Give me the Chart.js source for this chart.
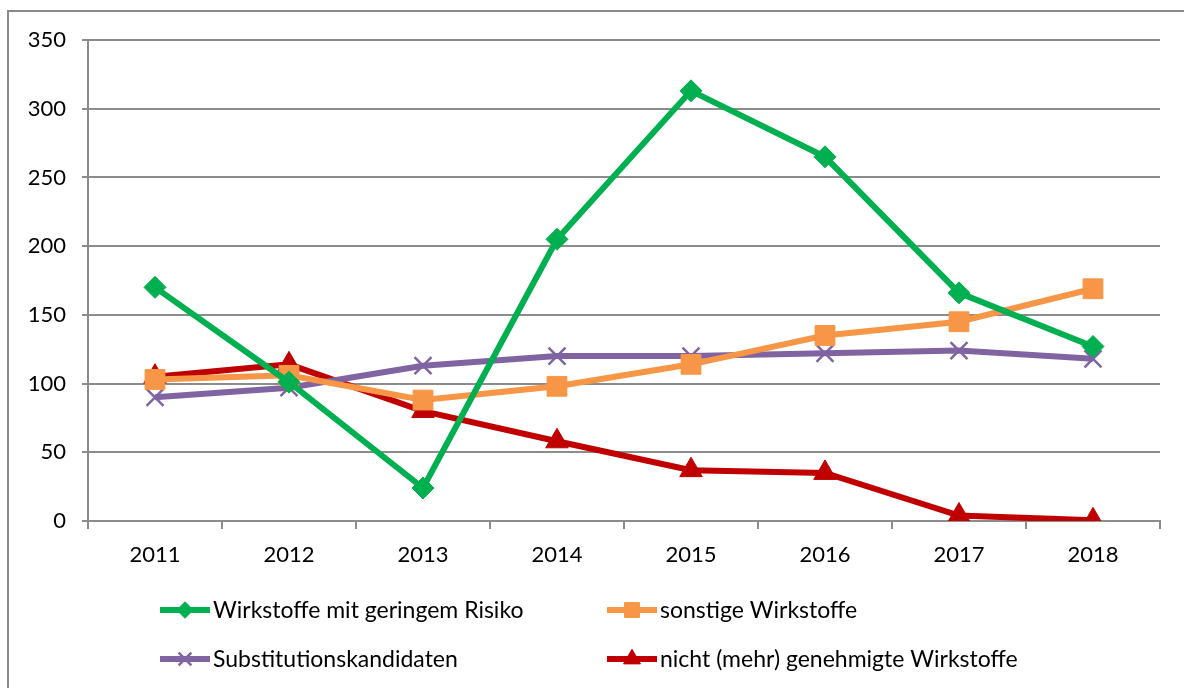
<!DOCTYPE html>
<html>
<head>
<meta charset="utf-8">
<script src="https://cdn.jsdelivr.net/npm/chart.js@4"></script>
<style>
  html, body { margin: 0; padding: 0; background: #fff; overflow: hidden; }
  #frame { position: absolute; left: 7px; top: 10px; width: 1300px; height: 800px;
           border-top: 2px solid #8a8a8a; border-left: 2px solid #8a8a8a; }
  #wrap { position: absolute; left: 0; top: 0; width: 1184px; height: 688px; }
</style>
</head>
<body>
<div id="frame"></div>
<div id="wrap"><canvas id="chart" width="1184" height="688"></canvas></div>
<script>
const years = ['2011', '2012', '2013', '2014', '2015', '2016', '2017', '2018'];
const geringesRisiko = [170, 101, 24, 205, 313, 265, 166, 127];
const sonstige = [103, 106, 88, 98, 114, 135, 145, 169];
const substitution = [90, 97, 113, 120, 120, 122, 124, 118];
const nichtGenehmigt = [105, 114, 80, 58, 37, 35, 4, 0.5];
const yTicks = [0, 50, 100, 150, 200, 250, 300, 350];

const FONT = "Lato";
const gridGray = '#8c8c8c';

// legend in two columns, drawn below the plot
const gridLegend = {
  id: 'gridLegend',
  afterDraw(chart) {
    const ctx = chart.ctx;
    const cols = [160, 607];
    const rows = [610, 659];
    chart.data.datasets.forEach((ds, i) => {
      const x = cols[i % 2];
      const y = rows[Math.floor(i / 2)];
      ctx.save();
      ctx.strokeStyle = ds.borderColor;
      ctx.lineWidth = 6;
      ctx.beginPath();
      ctx.moveTo(x, y);
      ctx.lineTo(x + 50, y);
      ctx.stroke();
      ctx.fillStyle = ds.pointBackgroundColor;
      ctx.strokeStyle = ds.pointBorderColor;
      ctx.lineWidth = ds.pointBorderWidth;
      Chart.helpers.drawPoint(ctx, { pointStyle: ds.pointStyle, radius: ds.pointRadius * 0.75, rotation: 0, borderWidth: ds.pointBorderWidth }, x + 25, y);
      ctx.fillStyle = '#000';
      ctx.font = '23px ' + FONT;
      ctx.textBaseline = 'middle';
      ctx.fillText(ds.label, x + 53, y + 1);
      ctx.restore();
    });
  }
};

function series(label, data, color, style, radius, bw) {
  return {
    label: label,
    data: data,
    borderColor: color,
    backgroundColor: color,
    borderWidth: 6,
    pointStyle: style,
    pointRadius: radius,
    pointHoverRadius: radius,
    pointBackgroundColor: color,
    pointBorderColor: color,
    pointBorderWidth: bw,
    tension: 0
  };
}

new Chart(document.getElementById('chart'), {
  type: 'line',
  data: {
    labels: years,
    datasets: [
      series('Wirkstoffe mit geringem Risiko', geringesRisiko, '#00B050', 'rectRot', 11, 1),
      series('sonstige Wirkstoffe', sonstige, '#F79646', 'rect', 14, 1),
      series('Substitutionskandidaten', substitution, '#8064A2', 'crossRot', 12, 2.5),
      series('nicht (mehr) genehmigte Wirkstoffe', nichtGenehmigt, '#C00000', 'triangle', 13, 1)
    ]
  },
  options: {
    responsive: false,
    animation: false,
    layout: { padding: { top: 40, right: 24, bottom: 117, left: 0 } },
    plugins: {
      legend: { display: false },
      tooltip: { enabled: false }
    },
    scales: {
      y: {
        min: 0,
        max: 350,
        afterFit(scale) { scale.width = 88; },
        afterBuildTicks(scale) { scale.ticks = yTicks.map(v => ({ value: v })); },
        grid: { color: gridGray, lineWidth: 2, tickLength: 6 },
        border: { color: gridGray, width: 2 },
        ticks: { color: '#000', padding: 16, font: { family: FONT, size: 22 } }
      },
      x: {
        offset: true,
        afterFit(scale) { scale.height = 50; },
        grid: { offset: true, drawOnChartArea: false, color: gridGray, lineWidth: 2, tickLength: 8 },
        border: { color: gridGray, width: 2 },
        ticks: { color: '#000', padding: 13, font: { family: FONT, size: 22 } }
      }
    }
  },
  plugins: [gridLegend]
});
</script>
</body>
</html>
